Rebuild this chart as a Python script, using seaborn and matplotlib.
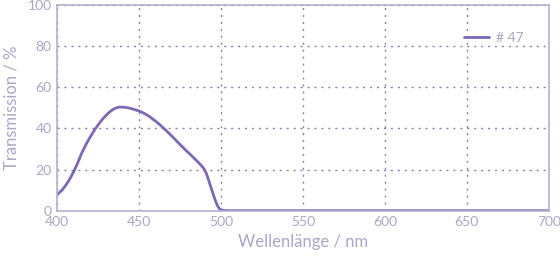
import numpy as np
import pandas as pd
import matplotlib
matplotlib.use("Agg")
import matplotlib.pyplot as plt
import seaborn as sns

wavelength = [400, 403, 406, 408, 410, 412, 415, 418, 420, 423, 426, 428, 430, 432, 434, 436, 438, 440, 443, 446, 450, 453, 456, 460, 463, 466, 470, 474, 478, 482, 485, 487, 489, 490, 491, 492, 493, 494, 495, 496, 497, 498, 499, 500, 502, 505, 510, 550, 600, 650, 700]
transmission = [7.8, 10.0, 13.2, 15.8, 18.8, 22.2, 28.0, 32.8, 35.6, 39.5, 42.8, 44.8, 46.5, 48.0, 49.2, 50.0, 50.4, 50.4, 50.1, 49.5, 48.5, 47.4, 46.0, 43.6, 41.6, 39.4, 36.3, 33.0, 29.8, 26.8, 24.4, 22.8, 21.0, 19.8, 18.2, 16.0, 13.5, 11.0, 8.6, 6.2, 4.0, 2.2, 1.0, 0.4, 0.1, 0.0, 0.0, 0.0, 0.0, 0.0, 0.0]
series_name = "# 47"

df = pd.DataFrame({"Wellenlänge": wavelength, "Transmission": transmission, "Filter": series_name})

sns.set_theme(style="white")
plt.rcParams['font.family'] = ['Lato', 'DejaVu Sans']

text_col = "#aba6c6"
axis_col = "#b4b0d0"
line_col = "#7d68b3"
grid_col = "#8a82ad"

fig = plt.figure(figsize=(5.6, 2.56), dpi=100)
ax = fig.add_axes([0.102, 0.177, 0.878, 0.803])

sns.lineplot(data=df, x="Wellenlänge", y="Transmission", hue="Filter", palette=[line_col], linewidth=2.0, ax=ax)

ax.set_xlim(400, 700)
ax.set_ylim(0, 100)
ax.set_xticks([400, 450, 500, 550, 600, 650, 700])
ax.set_yticks([0, 20, 40, 60, 80, 100])
ax.grid(True, linestyle=(0, (1.5, 3.5)), color=grid_col, linewidth=1.0)
for s in ax.spines.values():
    s.set_color(axis_col)
    s.set_linewidth(1.2)
ax.tick_params(colors=text_col, labelsize=10, length=0, pad=4)
ax.set_xlabel("Wellenlänge / nm", color=text_col, fontsize=12, labelpad=4)
ax.set_ylabel("Transmission / %", color=text_col, fontsize=12, labelpad=6)

leg = ax.legend(loc="upper right", frameon=False, fontsize=10, handlelength=1.8, handletextpad=0.5,
                bbox_to_anchor=(0.975, 0.93))
for t in leg.get_texts():
    t.set_color(text_col)
for l in leg.get_lines():
    l.set_linewidth(2.0)

fig.savefig("out.png", dpi=100)
